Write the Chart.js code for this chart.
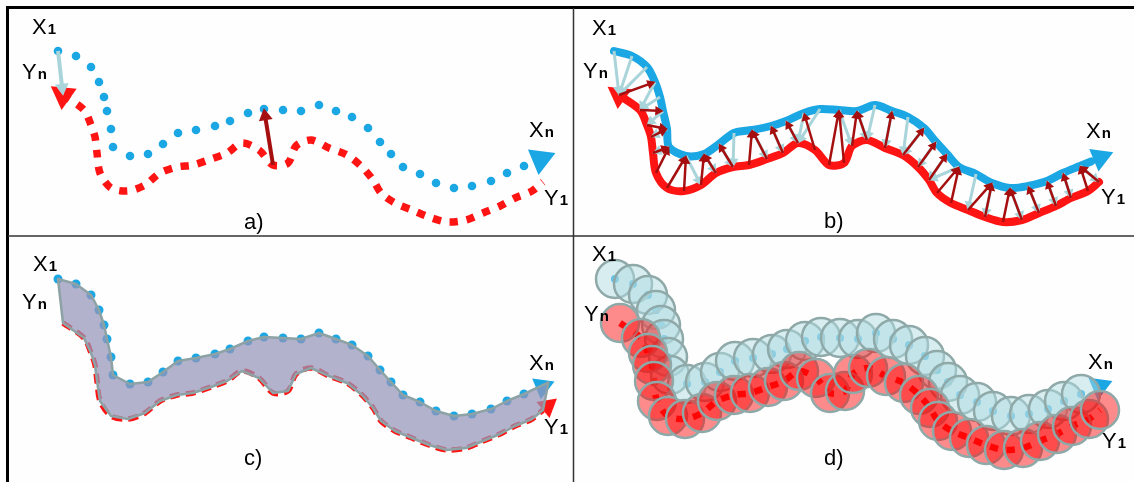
<!DOCTYPE html>
<html>
<head>
<meta charset="utf-8">
<script src="https://cdn.jsdelivr.net/npm/chart.js@4.4.0/dist/chart.umd.min.js"></script>
<style>
html, body { margin: 0; padding: 0; background: #fefefe; }
#wrap { position: relative; width: 1134px; height: 482px; }
</style>
</head>
<body>
<div id="wrap"><canvas id="c" width="1134" height="482"></canvas></div>
<script>
// curve X (blue) and curve Y (red), read in panel a coordinates
const blueX = [58, 76, 91, 99, 104, 107, 111, 113, 130, 148, 163, 178, 196, 215, 230, 248, 264, 283, 301, 319, 336, 352, 368, 380, 391, 403, 420, 436, 454, 472, 491, 507, 524];
const blueY = [51, 56, 67, 82, 97, 111, 129, 147, 156, 154, 144, 133, 130, 126, 121, 113, 109, 110, 111, 105, 111, 117, 128, 142, 154, 167, 174, 183, 188, 186, 181, 173, 166];
const redX = [63, 84, 91, 95, 97, 100, 111, 128, 145, 160, 177, 193, 211, 227, 242, 259, 273, 288, 296, 311, 329, 347, 362, 373, 381, 395, 412, 429, 447, 466, 483, 500, 515, 532, 543];
const redY = [95, 110, 125, 137, 153, 173, 188, 191, 185, 173, 167, 165, 159, 153, 143, 150, 165, 163, 146, 140, 148, 155, 167, 180, 193, 203, 210, 217, 222, 220, 213, 206, 198, 191, 182];

// the two single arrows of panel a: [blue index, red index]
const aBlueArrow = [0, 0];
const aRedArrow = [16, 16];

// panels
const panelNames = ['a)', 'b)', 'c)', 'd)'];
const labelMain = ['X', 'Y', 'X', 'Y'];
const labelSub = ['1', 'n', 'n', '1'];

// layout (not data)
const panelShiftX = [0, 556, 0, 557];
const panelShiftY = [0, 0, 228, 228];
const labelPosX = [[32, 22, 529, 544], [592, 583, 1086, 1101], [33, 22, 529, 544], [592, 584, 1088, 1102]];
const labelPosY = [[34, 79, 137, 205], [35, 78, 138, 204], [271, 309, 370, 434], [261, 321, 369, 448]];
const captionX = [244, 824, 244, 824];
const captionY = [229, 228, 465, 465];

const BLUE = '#1ba6e4', RED = '#ff1414', LIGHT = '#a9d5da', DARK = '#a50f0f';

function pts(xs, ys, p) {
    return xs.map(function(x, i){ return {x: x + panelShiftX[p], y: ys[i] + panelShiftY[p]}; });
}
function rot(from, to) {
    return Math.atan2(to.x - from.x, -(to.y - from.y)) * 180 / Math.PI;
}
// arrowhead placed past the end of a curve
function endHead(arr, dist) {
    let a = arr[arr.length - 2], b = arr[arr.length - 1];
    let dx = b.x - a.x, dy = b.y - a.y, l = Math.hypot(dx, dy);
    return {x: b.x + dx / l * dist, y: b.y + dy / l * dist, rot: rot(a, b)};
}
function startHead(arr) {
    return {x: arr[0].x, y: arr[0].y, rot: rot(arr[1], arr[0])};
}

function dots(data, color, r) {
    return {data: data, showLine: false, pointRadius: r, pointBackgroundColor: color, pointBorderWidth: 0};
}
function path(data, color, w, dash, tension) {
    return {data: data, showLine: true, borderColor: color, borderWidth: w, borderDash: dash || [],
        pointRadius: 0, tension: tension || 0, borderCapStyle: dash ? 'butt' : 'round',
        borderJoinStyle: 'round', fill: false};
}
function heads(list, color, r) {
    return {data: list.map(function(h){ return {x: h.x, y: h.y}; }), showLine: false,
        pointStyle: 'triangle', pointRadius: r, pointRotation: list.map(function(h){ return h.rot; }),
        pointBackgroundColor: color, pointBorderWidth: 0};
}
function circles(data, fillColor, r) {
    return {data: data, showLine: false, pointRadius: r, pointBackgroundColor: fillColor,
        pointBorderColor: '#8fa9a9', pointBorderWidth: 2.5};
}
// arrows from[i] -> to[j], one dataset with gaps
function arrows(pairs, from, to, color, w, r) {
    let data = [], radius = [], rotation = [];
    for (let pr of pairs) {
        let a = from[pr[0]], b = to[pr[1]];
        let dx = b.x - a.x, dy = b.y - a.y, l = Math.hypot(dx, dy);
        if (l < 4) continue;
        let c = {x: b.x - dx / l * r * 0.9, y: b.y - dy / l * r * 0.9};
        data.push({x: a.x, y: a.y}, c, {x: c.x, y: null});
        radius.push(0, r, 0);
        rotation.push(0, rot(a, b), 0);
    }
    return {data: data, showLine: true, spanGaps: false, borderColor: color, borderWidth: w,
        pointStyle: 'triangle', pointRadius: radius, pointRotation: rotation,
        pointBackgroundColor: color, pointBorderWidth: 0};
}
function nearestPairs(from, to) {
    return from.map(function(a, i){
        let best = 0, bd = 1e9;
        to.forEach(function(b, j){
            let d = Math.hypot(a.x - b.x, a.y - b.y);
            if (d < bd) { bd = d; best = j; }
        });
        return [i, best];
    });
}

let datasets = [];

// panel a
let bA = pts(blueX, blueY, 0), rA = pts(redX, redY, 0);
datasets.push(path(rA, RED, 7.5, [8, 9], 0.3));
datasets.push(dots(bA, BLUE, 4.3));
datasets.push(heads([endHead(bA, 18)], BLUE, 16));
datasets.push(heads([startHead(rA)], RED, 15));
datasets.push(arrows([aBlueArrow], bA, rA, LIGHT, 4, 8));
datasets.push(arrows([aRedArrow], rA, bA, DARK, 4, 8));

// panel b
let bB = pts(blueX, blueY, 1), rB = pts(redX, redY, 1);
let bEnd = endHead(bB, 12);
datasets.push(path(bB.concat([{x: bEnd.x, y: bEnd.y}]), BLUE, 8, null, 0.3));
datasets.push(path(rB, RED, 8, null, 0.3));
datasets.push(heads([endHead(bB, 22)], BLUE, 14));
datasets.push(heads([startHead(rB)], RED, 14));
datasets.push(arrows(nearestPairs(bB, rB), bB, rB, LIGHT, 3, 6));
datasets.push(arrows(nearestPairs(rB, bB), rB, bB, DARK, 2.5, 5.5));

// panel c
let bC = pts(blueX, blueY, 2), rC = pts(redX, redY, 2);
let cHead = endHead(bC, 20);
datasets.push(path(rC, RED, 5.5, [10, 6], 0.3));
datasets.push(dots(bC, BLUE, 4.5));
datasets.push(heads([endHead(rC, 6)], RED, 12));
datasets.push(heads([cHead], BLUE, 13));
let shape = bC.concat([{x: cHead.x + 6, y: cHead.y - 4}], rC.slice().reverse(), [bC[0]]);
let poly = path(shape, '#8da2a4', 2.5, null, 0);
poly.fill = 'shape';
poly.backgroundColor = 'rgba(150,148,184,0.72)';
datasets.push(poly);

// panel d
let bD = pts(blueX, blueY, 3), rD = pts(redX, redY, 3);
datasets.push(path(rD, RED, 6.5, [8, 9], 0.3));
datasets.push(dots(bD, BLUE, 4));
datasets.push(heads([endHead(bD, 20)], BLUE, 14));
datasets.push(circles(bD, 'rgba(175,220,226,0.5)', 19));
datasets.push(circles(rD, 'rgba(255,0,0,0.45)', 19));

// later pushed = drawn on top
datasets.forEach(function(d, i){ d.order = -i; });

const framePlugin = {
    id: 'frame',
    beforeDraw: function(chart){
        let ctx = chart.ctx;
        ctx.save();
        ctx.fillStyle = '#fefefe';
        ctx.fillRect(0, 0, 1134, 482);
        ctx.restore();
    },
    afterDraw: function(chart){
        let ctx = chart.ctx;
        ctx.save();
        ctx.strokeStyle = '#000';
        ctx.lineWidth = 3;
        ctx.beginPath();
        ctx.moveTo(6, 7.5); ctx.lineTo(1134, 7.5);
        ctx.moveTo(7.5, 6); ctx.lineTo(7.5, 482);
        ctx.stroke();
        ctx.strokeStyle = '#333';
        ctx.lineWidth = 1.5;
        ctx.beginPath();
        ctx.moveTo(573.5, 8); ctx.lineTo(573.5, 482);
        ctx.moveTo(8, 236); ctx.lineTo(1134, 236);
        ctx.stroke();

        ctx.fillStyle = '#000';
        ctx.textBaseline = 'alphabetic';
        for (let p = 0; p < 4; p++) {
            for (let k = 0; k < 4; k++) {
                ctx.font = '22px "Liberation Sans", Arial, sans-serif';
                ctx.fillText(labelMain[k], labelPosX[p][k], labelPosY[p][k]);
                let w = ctx.measureText(labelMain[k]).width;
                ctx.font = 'bold 15px "Liberation Sans", Arial, sans-serif';
                ctx.fillText(labelSub[k], labelPosX[p][k] + w + 1, labelPosY[p][k]);
            }
            ctx.font = '22px "Liberation Sans", Arial, sans-serif';
            ctx.fillText(panelNames[p], captionX[p], captionY[p]);
        }
        ctx.restore();
    }
};

new Chart(document.getElementById('c'), {
    type: 'scatter',
    data: {datasets: datasets},
    options: {
        responsive: false,
        animation: false,
        events: [],
        layout: {padding: 0, autoPadding: false},
        plugins: {legend: {display: false}, tooltip: {enabled: false}},
        scales: {
            x: {type: 'linear', min: 0, max: 1134, display: false},
            y: {type: 'linear', min: 0, max: 482, reverse: true, display: false}
        }
    },
    plugins: [framePlugin]
});
</script>
</body>
</html>
